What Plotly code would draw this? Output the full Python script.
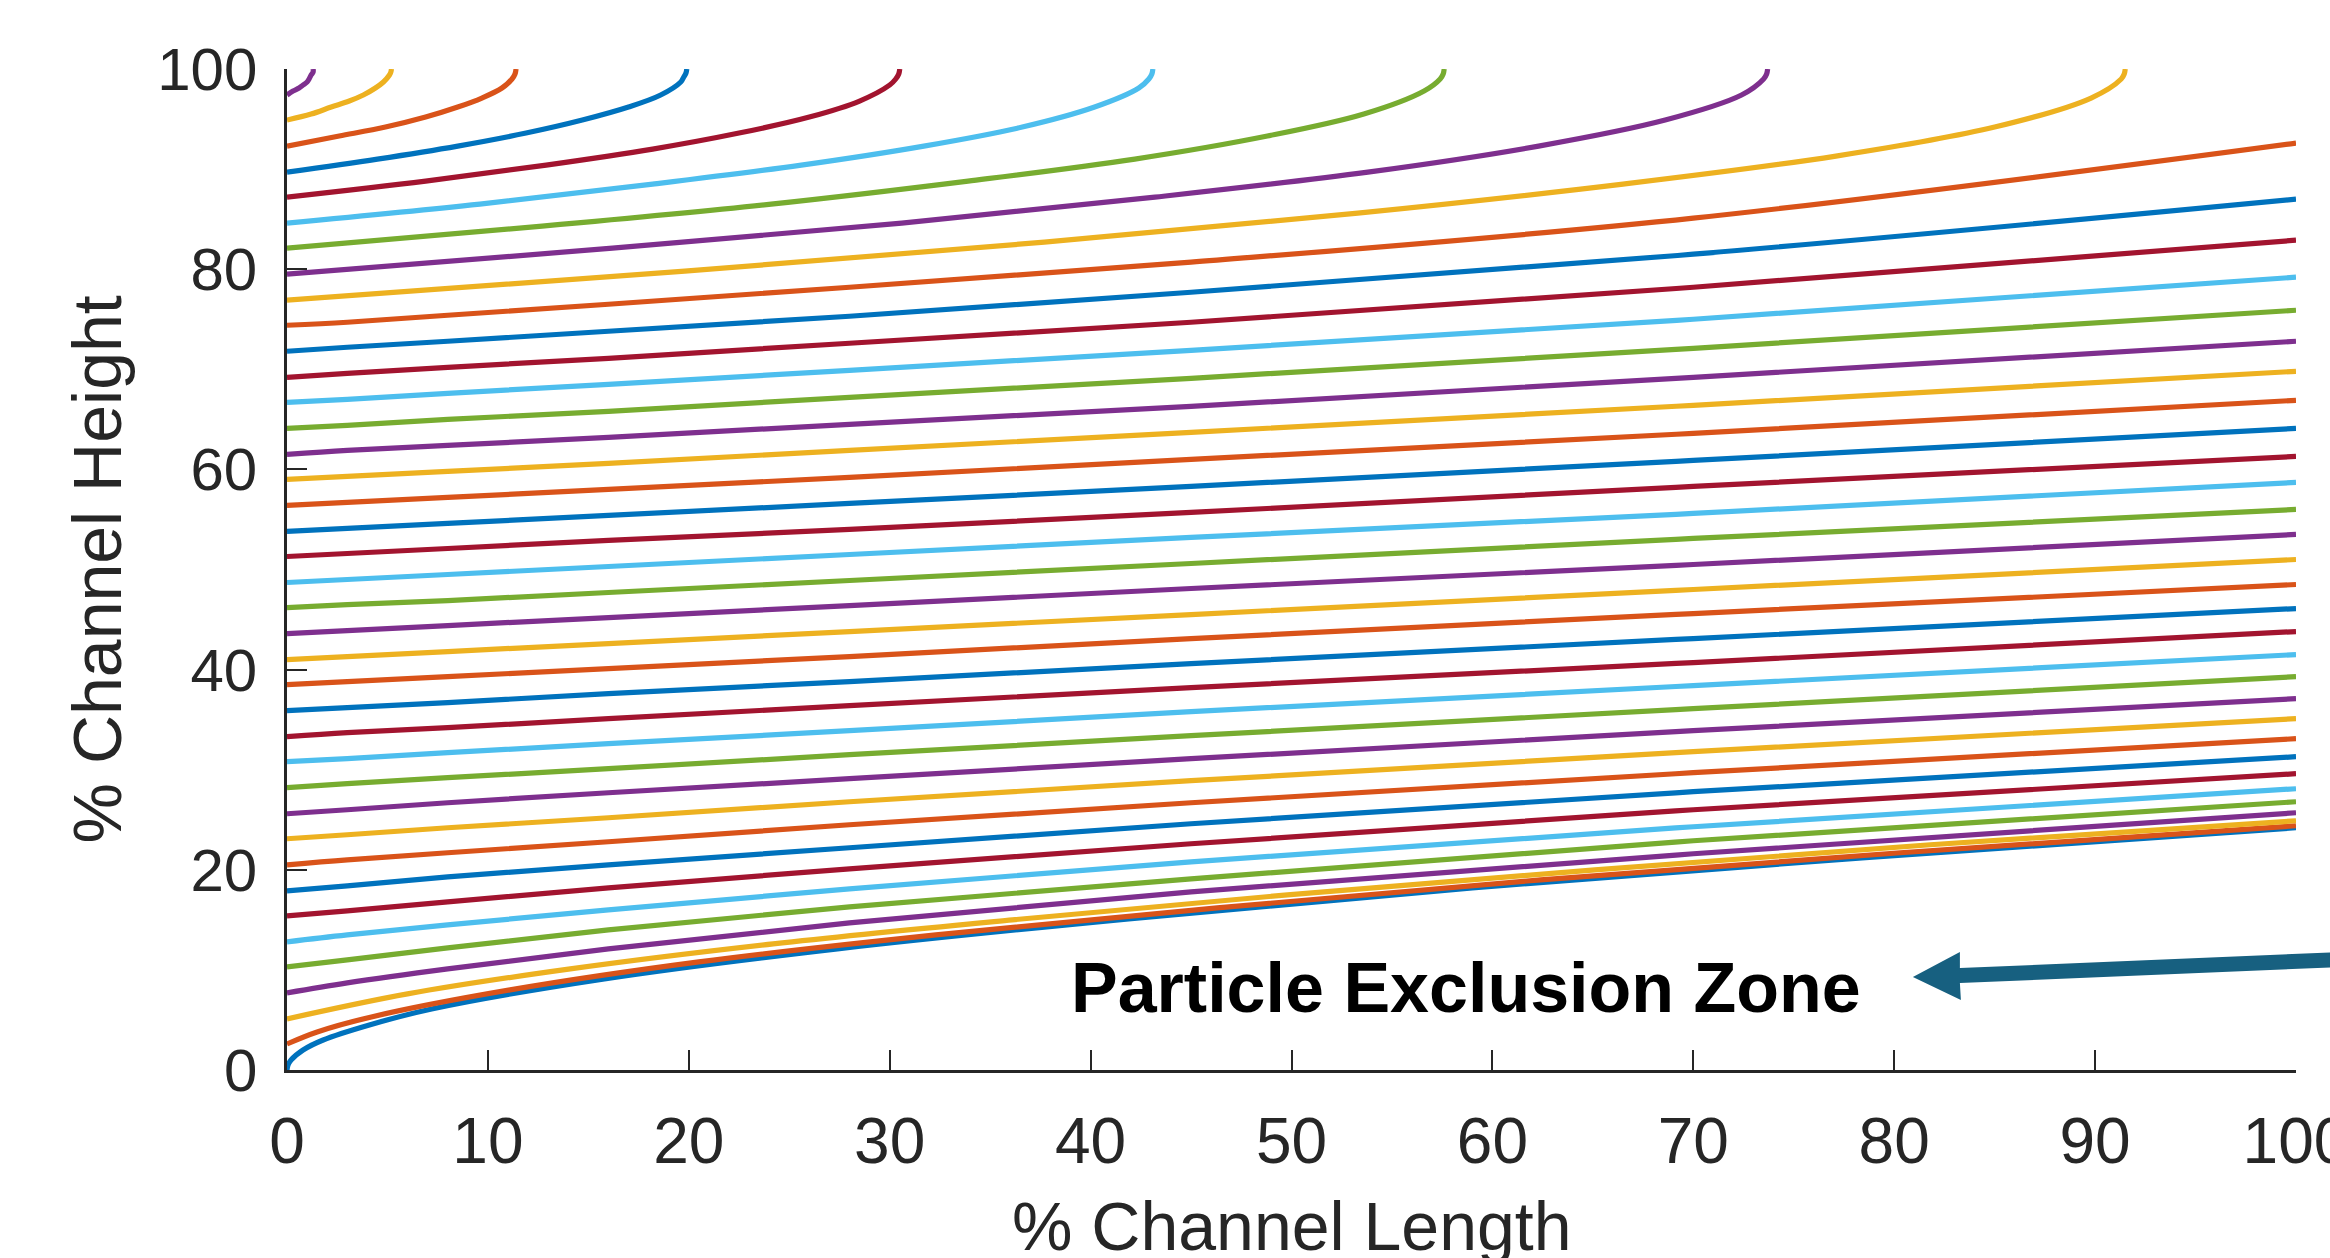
import plotly.graph_objects as go

COLORS = ['#0072BD', '#D95319', '#EDB120', '#7E2F8E', '#77AC30', '#4DBEEE', '#A2142F']

# Bottom three streamlines (x, y pairs)
LOW_X = [
    [0.0, 0.05, 0.2, 0.8, 1.8, 4.1, 7.2, 15.8, 27.4, 41.9, 59.0, 78.4, 100.0],
    [0.0, 1.5, 4.2, 11.1, 20.5, 32.3, 46.3, 62.4, 80.3, 100.0],
    [0.0, 6.0, 14.1, 24.2, 36.1, 49.8, 65.1, 81.8, 100.0],
]
LOW_Y = [
    [0.0, 0.5, 1.0, 2.0, 3.0, 4.5, 6.1, 9.1, 12.1, 15.1, 18.2, 21.2, 24.2],
    [2.6, 3.8, 5.3, 8.0, 10.8, 13.5, 16.2, 19.0, 21.7, 24.4],
    [5.1, 7.6, 10.1, 12.6, 15.0, 17.5, 20.0, 22.5, 24.9],
]

# Middle streamlines: heights read at common channel-length positions
MID_X = [0, 3, 8, 16, 28, 45, 70, 100]
MID_Y = [
    [7.7, 8.7, 10.1, 12.1, 14.7, 17.8, 21.6, 25.7],
    [10.3, 11.0, 12.2, 14.0, 16.3, 19.1, 22.9, 26.8],
    [12.8, 13.5, 14.5, 16.0, 18.1, 20.8, 24.3, 28.1],
    [15.4, 15.9, 16.8, 18.2, 20.1, 22.6, 26.0, 29.6],
    [17.9, 18.4, 19.3, 20.5, 22.2, 24.6, 27.8, 31.3],
    [20.5, 21.0, 21.7, 22.8, 24.5, 26.7, 29.7, 33.1],
    [23.1, 23.5, 24.2, 25.2, 26.8, 28.9, 31.8, 35.1],
    [25.6, 26.0, 26.7, 27.7, 29.1, 31.1, 33.9, 37.1],
    [28.2, 28.6, 29.2, 30.1, 31.5, 33.4, 36.1, 39.3],
    [30.8, 31.1, 31.7, 32.6, 33.9, 35.8, 38.4, 41.5],
    [33.3, 33.7, 34.2, 35.1, 36.4, 38.2, 40.7, 43.8],
    [35.9, 36.2, 36.7, 37.6, 38.8, 40.6, 43.1, 46.1],
    [38.5, 38.8, 39.3, 40.1, 41.3, 43.1, 45.6, 48.5],
    [41.0, 41.3, 41.8, 42.6, 43.8, 45.5, 48.0, 51.0],
    [43.6, 43.9, 44.4, 45.2, 46.4, 48.1, 50.5, 53.5],
    [46.2, 46.5, 46.9, 47.7, 48.9, 50.6, 53.1, 56.0],
    [48.7, 49.0, 49.5, 50.3, 51.5, 53.2, 55.6, 58.7],
    [51.3, 51.6, 52.1, 52.9, 54.0, 55.7, 58.3, 61.3],
    [53.8, 54.1, 54.6, 55.4, 56.6, 58.3, 60.9, 64.1],
    [56.4, 56.7, 57.2, 58.0, 59.2, 61.0, 63.6, 66.9],
    [59.0, 59.3, 59.8, 60.6, 61.9, 63.7, 66.4, 69.8],
    [61.5, 61.9, 62.4, 63.2, 64.5, 66.3, 69.2, 72.8],
    [64.1, 64.4, 65.0, 65.8, 67.2, 69.1, 72.1, 75.9],
    [66.7, 67.0, 67.6, 68.5, 69.9, 71.9, 75.0, 79.2],
    [69.2, 69.6, 70.2, 71.1, 72.6, 74.7, 78.2, 82.9],
    [71.8, 72.2, 72.8, 73.8, 75.3, 77.7, 81.5, 87.0],
    [74.4, 74.7, 75.4, 76.5, 78.2, 80.7, 85.1, 92.6],
]

# Top streamlines that leave through the upper wall (x, y pairs)
TOP_X = [
    [0.0, 19.8, 37.7, 53.3, 66.5, 77.1, 85.0, 89.8, 91.3, 91.45, 91.5],
    [0.0, 16.2, 30.6, 43.2, 53.8, 62.3, 68.6, 72.4, 73.5, 73.65, 73.7],
    [0.0, 12.7, 24.1, 33.9, 42.2, 48.8, 53.6, 56.6, 57.4, 57.55, 57.6],
    [0.0, 9.6, 18.2, 25.6, 31.7, 36.6, 40.2, 42.4, 42.9, 43.05, 43.1],
    [0.0, 6.9, 12.9, 18.2, 22.5, 26.0, 28.5, 30.0, 30.3, 30.45, 30.5],
    [0.0, 4.5, 8.5, 11.9, 14.7, 17.0, 18.6, 19.6, 19.75, 19.86, 19.9],
    [0.0, 2.6, 4.9, 6.9, 8.5, 9.7, 10.7, 11.2, 11.35, 11.4],
    [0.0, 1.2, 2.2, 3.1, 3.8, 4.4, 4.8, 5.1, 5.17, 5.2],
    [0.0, 0.3, 0.6, 0.8, 1.0, 1.1, 1.2, 1.3, 1.3],
]
TOP_Y = [
    [76.9, 79.8, 82.7, 85.6, 88.5, 91.3, 94.2, 97.1, 99.0, 99.5, 100.0],
    [79.5, 82.1, 84.6, 87.2, 89.7, 92.3, 94.9, 97.4, 99.0, 99.5, 100.0],
    [82.1, 84.3, 86.5, 88.8, 91.0, 93.3, 95.5, 97.8, 99.0, 99.5, 100.0],
    [84.6, 86.5, 88.5, 90.4, 92.3, 94.2, 96.2, 98.1, 99.0, 99.5, 100.0],
    [87.2, 88.8, 90.4, 92.0, 93.6, 95.2, 96.8, 98.4, 99.0, 99.5, 100.0],
    [89.7, 91.0, 92.3, 93.6, 94.9, 96.2, 97.4, 98.7, 99.2, 99.6, 100.0],
    [92.3, 93.3, 94.2, 95.2, 96.2, 97.1, 98.1, 99.0, 99.5, 100.0],
    [94.9, 95.5, 96.2, 96.8, 97.4, 98.1, 98.7, 99.4, 99.7, 100.0],
    [97.4, 97.8, 98.1, 98.4, 98.7, 99.0, 99.4, 99.7, 100.0],
]

X_TICKS = [0, 10, 20, 30, 40, 50, 60, 70, 80, 90, 100]
Y_TICKS = [0, 20, 40, 60, 80, 100]

series = list(zip(LOW_X, LOW_Y))
series += [(MID_X, row) for row in MID_Y]
series += list(zip(TOP_X, TOP_Y))

fig = go.Figure()
for i, (xs, ys) in enumerate(series):
    fig.add_trace(go.Scatter(
        x=xs, y=ys, mode='lines',
        line=dict(color=COLORS[i % 7], width=5.2, shape='spline', smoothing=1.0),
        showlegend=False, hoverinfo='skip'))

AX = '#262626'
FONT = 'Liberation Sans, Arial, sans-serif'
fig.update_layout(
    width=2330, height=1258,
    margin=dict(l=287, r=34, t=69, b=188, autoexpand=False),
    paper_bgcolor='white', plot_bgcolor='white',
    font=dict(family=FONT, color=AX),
    xaxis=dict(range=[0, 100], tickvals=X_TICKS, automargin=False,
               ticks='inside', ticklen=20, tickwidth=2, tickcolor=AX,
               showline=True, linecolor=AX, linewidth=2.5, showgrid=False, zeroline=False,
               tickfont=dict(size=64, family=FONT, color=AX), ticklabelstandoff=13,
               ticklabeloverflow='allow'),
    yaxis=dict(range=[0, 100], tickvals=Y_TICKS, automargin=False,
               ticks='inside', ticklen=20, tickwidth=2, tickcolor=AX,
               showline=True, linecolor=AX, linewidth=2.5, showgrid=False, zeroline=False,
               tickfont=dict(size=60, family=FONT, color=AX), ticklabelstandoff=15,
               ticklabeloverflow='allow'),
    annotations=[
        dict(text='% Channel Length', xref='paper', yref='paper', x=0.5, y=-0.156,
             xanchor='center', yanchor='middle', showarrow=False,
             font=dict(size=68, family=FONT, color=AX)),
        dict(text='% Channel Height', xref='paper', yref='paper', x=-0.0946, y=0.5,
             xanchor='center', yanchor='middle', textangle=-90, showarrow=False,
             font=dict(size=68, family=FONT, color=AX)),
        dict(text='<b>Particle Exclusion Zone</b>', xref='x', yref='y', x=58.7, y=8.2,
             xanchor='center', yanchor='middle', showarrow=False,
             font=dict(size=70, family=FONT, color='black')),
    ],
    shapes=[
        dict(type='path', xref='paper', yref='paper', layer='above',
             path='M 0.8093 0.0929 L 0.8327 0.1179 L 0.8327 0.1019 L 1.0219 0.1179 '
                  'L 1.0219 0.1029 L 0.8327 0.0869 L 0.8332 0.0699 Z',
             fillcolor='#176080', line=dict(width=0)),
    ],
)
fig.write_html('out.html')
